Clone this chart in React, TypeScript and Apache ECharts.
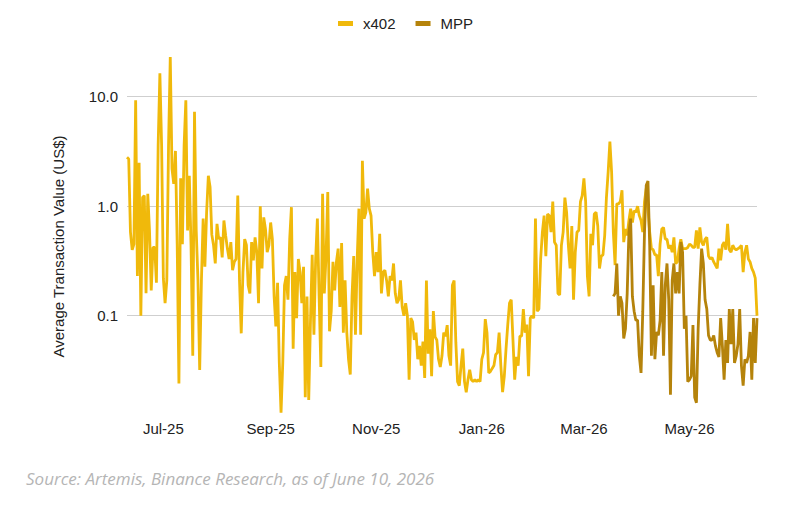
import React, { useEffect, useRef } from "react";
import * as echarts from "echarts";

// daily series, Jun 10 2025 -> Jun 9 2026
const startDate = Date.UTC(2025, 5, 10);
const dayCount = 365;
const monthNames = ["Jan", "Feb", "Mar", "Apr", "May", "Jun", "Jul", "Aug", "Sep", "Oct", "Nov", "Dec"];

const seriesNames = ["x402", "MPP"];
const seriesColors = ["#F0B90B", "#B5830B"];

const x402Values = [
  2.8, 2.7, 0.58, 0.4, 0.45, 9.3, 0.23, 2.5, 0.1, 1.2,
  1.25, 0.16, 1.3, 0.6, 0.17, 0.42, 0.42, 0.2, 3.6, 16.4,
  3.6, 0.22, 0.13, 0.21, 3.6, 23, 2.2, 1.6, 3.2, 0.45,
  0.024, 1.8, 0.45, 3.6, 9.3, 0.6, 1.9, 0.44, 0.043, 7.3,
  0.6, 0.21, 0.032, 0.21, 0.77, 0.28, 0.88, 1.9, 1.5, 0.55,
  0.44, 0.3, 0.69, 0.5, 0.52, 0.34, 0.74, 0.54, 0.41, 0.33,
  0.47, 0.26, 0.31, 0.33, 1.25, 0.21, 0.069, 0.25, 0.5, 0.44,
  0.19, 0.16, 0.47, 0.32, 0.52, 0.38, 0.13, 1.0, 0.27, 0.79,
  0.62, 0.38, 0.44, 0.71, 0.5, 0.15, 0.08, 0.2, 0.037, 0.013,
  0.037, 0.19, 0.23, 0.14, 0.5, 0.98, 0.05, 0.25, 0.095, 0.33,
  0.25, 0.13, 0.28, 0.018, 0.15, 0.017, 0.088, 0.36, 0.067, 0.33,
  0.77, 0.15, 0.034, 1.3, 0.16, 0.35, 1.35, 0.072, 0.11, 0.31,
  0.17, 0.31, 0.41, 0.12, 0.46, 0.07, 0.21, 0.07, 0.04, 0.029,
  0.15, 0.35, 0.067, 0.33, 0.95, 0.067, 2.6, 0.77, 0.88, 1.45,
  0.95, 0.82, 0.38, 0.23, 0.38, 0.25, 0.56, 0.16, 0.25, 0.26,
  0.21, 0.15, 0.23, 0.21, 0.3, 0.16, 0.13, 0.14, 0.21, 0.12,
  0.1, 0.13, 0.1, 0.026, 0.095, 0.088, 0.06, 0.07, 0.04, 0.053,
  0.035, 0.058, 0.027, 0.21, 0.045, 0.075, 0.028, 0.11, 0.064, 0.06,
  0.04, 0.034, 0.043, 0.07, 0.065, 0.082, 0.043, 0.035, 0.19, 0.21,
  0.057, 0.025, 0.023, 0.035, 0.05, 0.025, 0.02, 0.026, 0.032, 0.026,
  0.025, 0.026, 0.025, 0.026, 0.025, 0.04, 0.046, 0.093, 0.07, 0.03,
  0.031, 0.033, 0.035, 0.044, 0.046, 0.07, 0.035, 0.02, 0.028, 0.05,
  0.083, 0.13, 0.14, 0.06, 0.026, 0.042, 0.035, 0.065, 0.065, 0.115,
  0.07, 0.083, 0.028, 0.095, 0.1, 0.095, 0.77, 0.11, 0.115, 0.33,
  0.58, 0.82, 0.35, 0.85, 0.82, 0.58, 1.1, 0.47, 0.44, 0.16,
  0.155, 0.44, 0.58, 1.2, 0.88, 0.44, 0.27, 0.66, 0.14, 0.38,
  0.58, 0.6, 1.1, 1.25, 1.8, 1.1, 0.23, 0.15, 0.56, 0.44,
  0.85, 0.88, 0.66, 0.27, 0.35, 0.36, 0.54, 1.2, 2.05, 3.9,
  2.05, 0.58, 0.29, 1.05, 1.05, 1.1, 1.4, 0.47, 0.62, 0.54,
  0.74, 0.95, 0.71, 0.91, 0.88, 1.0, 0.82, 0.74, 0.58, 1.1,
  1.45, 0.95, 0.58, 0.41, 0.4, 0.36, 0.36, 0.23, 0.45, 0.62,
  0.64, 0.5, 0.5, 0.41, 0.44, 0.38, 0.52, 0.3, 0.31, 0.41,
  0.5, 0.41, 0.41, 0.41, 0.42, 0.45, 0.44, 0.42, 0.42, 0.6,
  0.41, 0.64, 0.47, 0.44, 0.5, 0.52, 0.35, 0.33, 0.34, 0.31,
  0.29, 0.27, 0.41, 0.32, 0.44, 0.47, 0.4, 0.69, 0.4, 0.38,
  0.44, 0.41, 0.4, 0.41, 0.42, 0.44, 0.25, 0.38, 0.44, 0.33,
  0.31, 0.27, 0.25, 0.22, 0.1,
];

// MPP only has data from day 281 (Mar 18 2026)
const mppStartIndex = 281;
const mppValues = [
  0.15, 0.16, 0.3, 0.1, 0.15, 0.13, 0.062, 0.076, 0.16, 0.58,
  0.77, 0.15, 0.11, 0.091, 0.091, 0.043, 0.03, 0.11, 0.58, 1.55,
  1.7, 0.44, 0.043, 0.19, 0.04, 0.071, 0.066, 0.09, 0.25, 0.043,
  0.19, 0.3, 0.14, 0.019, 0.21, 0.3, 0.16, 0.25, 0.16, 0.47,
  0.38, 0.076, 0.1, 0.025, 0.026, 0.028, 0.082, 0.018, 0.016, 0.076,
  0.19, 0.41, 0.3, 0.14, 0.115, 0.066, 0.06, 0.06, 0.066, 0.053,
  0.046, 0.042, 0.095, 0.053, 0.026, 0.06, 0.037, 0.115, 0.055, 0.115,
  0.037, 0.043, 0.055, 0.115, 0.035, 0.023, 0.04, 0.037, 0.043, 0.071,
  0.026, 0.095, 0.037, 0.095,
];

const yTickValues = [0.1, 1, 10];
const yTickLabels = ["0.1", "1.0", "10.0"];

const yAxisTitle = "Average Transaction Value (US$)";
const sourceNote = "Source: Artemis, Binance Research, as of June 10, 2026";

const font = "'Liberation Sans', Arial, Helvetica, sans-serif";

const dates: string[] = [];
for (let i = 0; i < dayCount; i++) {
  dates.push(new Date(startDate + i * 86400000).toISOString().slice(0, 10));
}

function isLabelDay(value: string) {
  const d = new Date(value + "T00:00:00Z");
  return d.getUTCDate() === 1 && d.getUTCMonth() % 2 === 0;
}

function monthLabel(value: string) {
  const d = new Date(value + "T00:00:00Z");
  return monthNames[d.getUTCMonth()] + "-" + String(d.getUTCFullYear()).slice(2);
}

export default function App() {
  const elRef = useRef<HTMLDivElement | null>(null);

  useEffect(() => {
    if (!elRef.current) return;
    const chart = echarts.init(elRef.current, null, { renderer: "svg" });

    const mppData = dates.map((_, i) =>
      i >= mppStartIndex && i - mppStartIndex < mppValues.length ? mppValues[i - mppStartIndex] : null
    );

    chart.setOption({
      animation: false,
      backgroundColor: "#ffffff",
      textStyle: { fontFamily: font },
      legend: {
        left: 338,
        top: 16,
        padding: 0,
        icon: "rect",
        itemWidth: 15,
        itemHeight: 5,
        itemGap: 20,
        textStyle: { fontSize: 15, color: "#222", fontFamily: font, padding: [0, 0, 0, 5] },
        data: seriesNames,
      },
      grid: { left: 127, right: 40, top: 44.5, height: 372 },
      xAxis: {
        type: "category",
        data: dates,
        boundaryGap: false,
        axisLine: { show: false },
        axisTick: { show: false },
        splitLine: { show: false },
        axisLabel: {
          interval: (_i: number, v: string) => isLabelDay(v),
          formatter: (v: string) => monthLabel(v),
          color: "#222",
          fontSize: 15,
          margin: 4,
          fontFamily: font,
        },
      },
      yAxis: {
        type: "log",
        logBase: 10,
        min: 0.012,
        max: 30,
        axisLine: { show: false },
        axisTick: { show: false },
        splitLine: {
          show: true,
          showMinLine: false,
          showMaxLine: false,
          lineStyle: { color: "#cfcfcf", width: 1 },
        },
        axisLabel: {
          color: "#222",
          fontSize: 15,
          margin: 9,
          fontFamily: font,
          formatter: (v: number) => {
            const k = yTickValues.findIndex((t) => Math.abs(Math.log10(v) - Math.log10(t)) < 1e-6);
            return k >= 0 ? yTickLabels[k] : "";
          },
        },
      },
      graphic: [
        {
          type: "text",
          x: 58.5,
          y: 246.5,
          rotation: Math.PI / 2,
          style: {
            text: yAxisTitle,
            fill: "#222",
            font: "15px " + font,
            textAlign: "center",
            textVerticalAlign: "middle",
          },
        },
        {
          type: "text",
          x: 26,
          y: 478,
          style: {
            text: sourceNote,
            fill: "#b5b5b5",
            font: "italic 17px 'Open Sans', 'DejaVu Sans', sans-serif",
            textAlign: "left",
            textVerticalAlign: "middle",
          },
        },
      ],
      series: [
        {
          name: seriesNames[0],
          type: "line",
          data: x402Values,
          showSymbol: false,
          lineStyle: { color: seriesColors[0], width: 2.8 },
          itemStyle: { color: seriesColors[0] },
        },
        {
          name: seriesNames[1],
          type: "line",
          data: mppData,
          showSymbol: false,
          lineStyle: { color: seriesColors[1], width: 2.8 },
          itemStyle: { color: seriesColors[1] },
        },
      ],
    });

    return () => chart.dispose();
  }, []);

  return (
    <div
      ref={elRef}
      style={{ position: "absolute", left: 0, top: 0, width: 797, height: 515 }}
    />
  );
}
